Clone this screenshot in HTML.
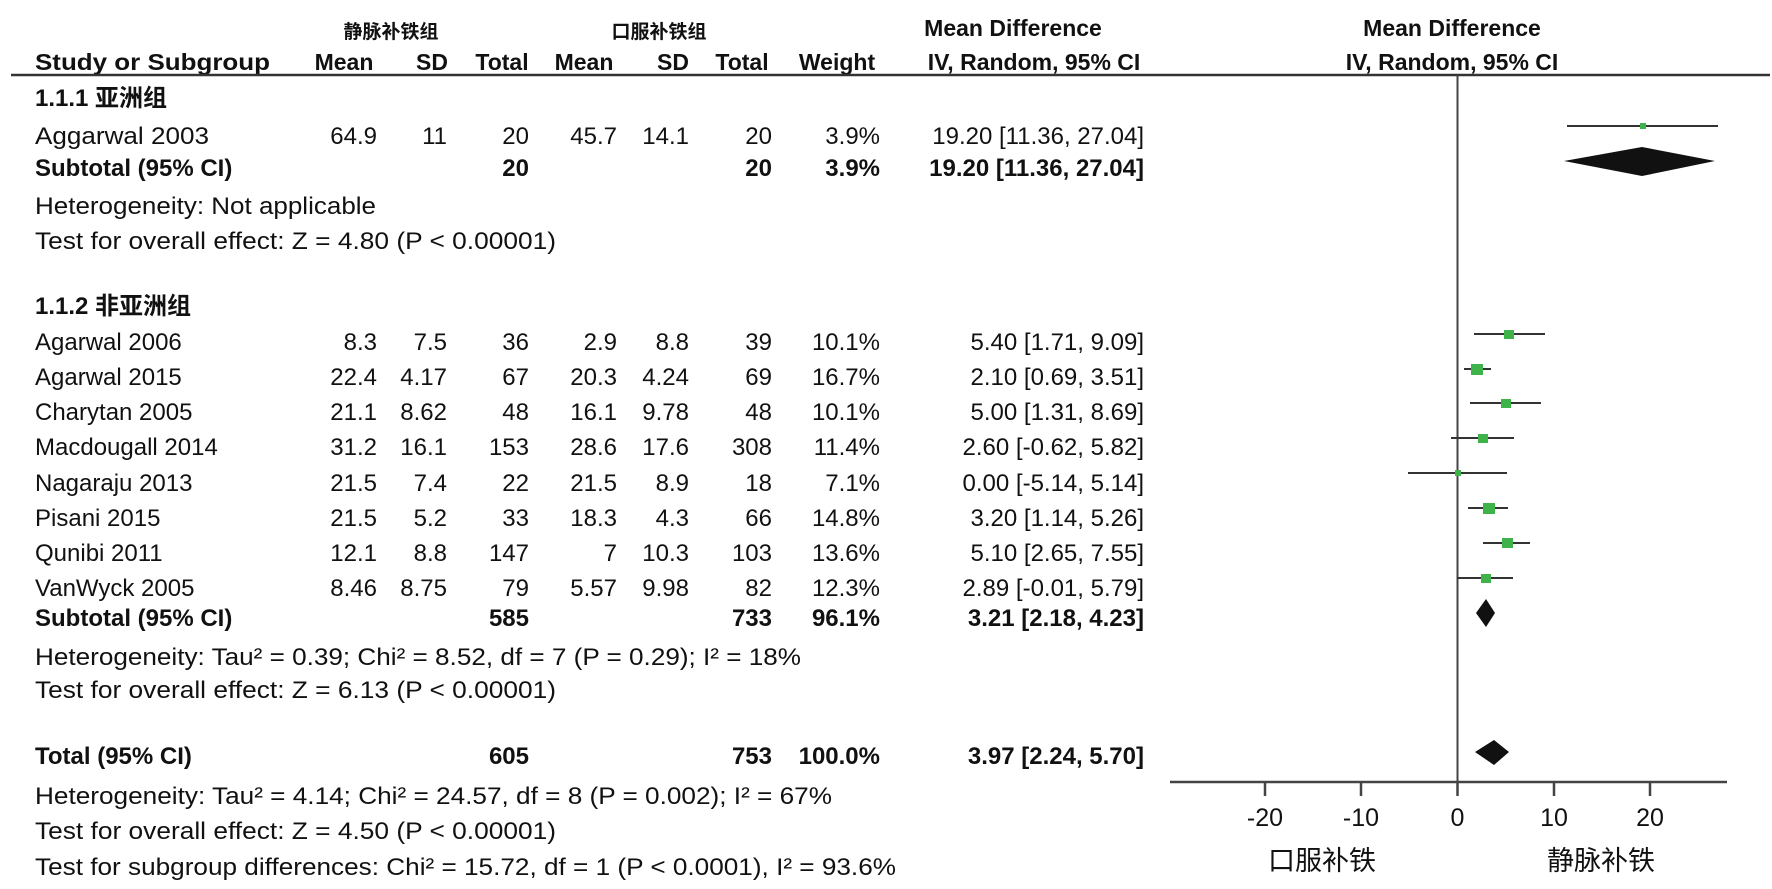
<!DOCTYPE html>
<html><head><meta charset="utf-8"><style>
html,body{margin:0;padding:0;background:#fff;}
svg{display:block;}
text{font-family:"Liberation Sans","Noto Sans CJK SC",sans-serif;font-size:24px;fill:#111;}
.b{font-weight:bold;}
.h{font-weight:bold;font-size:23px;}
.e{text-anchor:end;}
.m{text-anchor:middle;}
</style></head><body>
<svg width="1772" height="889" viewBox="0 0 1772 889">
<text class="h m" x="391" y="38" style="font-size:19px">静脉补铁组</text>
<text class="h m" x="659" y="38" style="font-size:19px">口服补铁组</text>
<text class="h m" x="1013" y="36">Mean Difference</text>
<text class="h m" x="1452" y="36">Mean Difference</text>
<text class="h" x="35" y="70" textLength="235" lengthAdjust="spacingAndGlyphs">Study or Subgroup</text>
<text class="h m" x="344" y="70">Mean</text>
<text class="h m" x="432" y="70">SD</text>
<text class="h m" x="502" y="70">Total</text>
<text class="h m" x="584" y="70">Mean</text>
<text class="h m" x="673" y="70">SD</text>
<text class="h m" x="742" y="70">Total</text>
<text class="h m" x="837" y="70">Weight</text>
<text class="h m" x="1034" y="70">IV, Random, 95% CI</text>
<text class="h m" x="1452" y="70">IV, Random, 95% CI</text>
<line x1="11" y1="75" x2="1770" y2="75" stroke="#333" stroke-width="2.5"/>

<text class="b" x="35" y="106">1.1.1  亚洲组</text>
<text x="35" y="144" textLength="174" lengthAdjust="spacingAndGlyphs">Aggarwal 2003</text>
<text class="e" x="377" y="144">64.9</text><text class="e" x="447" y="144">11</text><text class="e" x="529" y="144">20</text>
<text class="e" x="617" y="144">45.7</text><text class="e" x="689" y="144">14.1</text><text class="e" x="772" y="144">20</text>
<text class="e" x="880" y="144">3.9%</text><text class="e" x="1144" y="144">19.20 [11.36, 27.04]</text>
<text class="b" x="35" y="176">Subtotal (95% CI)</text>
<text class="b e" x="529" y="176">20</text><text class="b e" x="772" y="176">20</text>
<text class="b e" x="880" y="176">3.9%</text><text class="b e" x="1144" y="176">19.20 [11.36, 27.04]</text>
<text x="35" y="214" textLength="341" lengthAdjust="spacingAndGlyphs">Heterogeneity: Not applicable</text>
<text x="35" y="249" textLength="521" lengthAdjust="spacingAndGlyphs">Test for overall effect: Z = 4.80 (P &lt; 0.00001)</text>

<text class="b" x="35" y="314">1.1.2  非亚洲组</text>
<text x="35" y="350">Agarwal 2006</text><text class="e" x="377" y="350">8.3</text><text class="e" x="447" y="350">7.5</text><text class="e" x="529" y="350">36</text><text class="e" x="617" y="350">2.9</text><text class="e" x="689" y="350">8.8</text><text class="e" x="772" y="350">39</text><text class="e" x="880" y="350">10.1%</text><text class="e" x="1144" y="350">5.40 [1.71, 9.09]</text>
<text x="35" y="385">Agarwal 2015</text><text class="e" x="377" y="385">22.4</text><text class="e" x="447" y="385">4.17</text><text class="e" x="529" y="385">67</text><text class="e" x="617" y="385">20.3</text><text class="e" x="689" y="385">4.24</text><text class="e" x="772" y="385">69</text><text class="e" x="880" y="385">16.7%</text><text class="e" x="1144" y="385">2.10 [0.69, 3.51]</text>
<text x="35" y="420">Charytan 2005</text><text class="e" x="377" y="420">21.1</text><text class="e" x="447" y="420">8.62</text><text class="e" x="529" y="420">48</text><text class="e" x="617" y="420">16.1</text><text class="e" x="689" y="420">9.78</text><text class="e" x="772" y="420">48</text><text class="e" x="880" y="420">10.1%</text><text class="e" x="1144" y="420">5.00 [1.31, 8.69]</text>
<text x="35" y="455">Macdougall 2014</text><text class="e" x="377" y="455">31.2</text><text class="e" x="447" y="455">16.1</text><text class="e" x="529" y="455">153</text><text class="e" x="617" y="455">28.6</text><text class="e" x="689" y="455">17.6</text><text class="e" x="772" y="455">308</text><text class="e" x="880" y="455">11.4%</text><text class="e" x="1144" y="455">2.60 [-0.62, 5.82]</text>
<text x="35" y="491">Nagaraju 2013</text><text class="e" x="377" y="491">21.5</text><text class="e" x="447" y="491">7.4</text><text class="e" x="529" y="491">22</text><text class="e" x="617" y="491">21.5</text><text class="e" x="689" y="491">8.9</text><text class="e" x="772" y="491">18</text><text class="e" x="880" y="491">7.1%</text><text class="e" x="1144" y="491">0.00 [-5.14, 5.14]</text>
<text x="35" y="526">Pisani 2015</text><text class="e" x="377" y="526">21.5</text><text class="e" x="447" y="526">5.2</text><text class="e" x="529" y="526">33</text><text class="e" x="617" y="526">18.3</text><text class="e" x="689" y="526">4.3</text><text class="e" x="772" y="526">66</text><text class="e" x="880" y="526">14.8%</text><text class="e" x="1144" y="526">3.20 [1.14, 5.26]</text>
<text x="35" y="561">Qunibi 2011</text><text class="e" x="377" y="561">12.1</text><text class="e" x="447" y="561">8.8</text><text class="e" x="529" y="561">147</text><text class="e" x="617" y="561">7</text><text class="e" x="689" y="561">10.3</text><text class="e" x="772" y="561">103</text><text class="e" x="880" y="561">13.6%</text><text class="e" x="1144" y="561">5.10 [2.65, 7.55]</text>
<text x="35" y="596">VanWyck 2005</text><text class="e" x="377" y="596">8.46</text><text class="e" x="447" y="596">8.75</text><text class="e" x="529" y="596">79</text><text class="e" x="617" y="596">5.57</text><text class="e" x="689" y="596">9.98</text><text class="e" x="772" y="596">82</text><text class="e" x="880" y="596">12.3%</text><text class="e" x="1144" y="596">2.89 [-0.01, 5.79]</text>
<text class="b" x="35" y="626">Subtotal (95% CI)</text>
<text class="b e" x="529" y="626">585</text><text class="b e" x="772" y="626">733</text>
<text class="b e" x="880" y="626">96.1%</text><text class="b e" x="1144" y="626">3.21 [2.18, 4.23]</text>
<text x="35" y="665" textLength="766" lengthAdjust="spacingAndGlyphs">Heterogeneity: Tau² = 0.39; Chi² = 8.52, df = 7 (P = 0.29); I² = 18%</text>
<text x="35" y="698" textLength="521" lengthAdjust="spacingAndGlyphs">Test for overall effect: Z = 6.13 (P &lt; 0.00001)</text>

<text class="b" x="35" y="764">Total (95% CI)</text>
<text class="b e" x="529" y="764">605</text><text class="b e" x="772" y="764">753</text>
<text class="b e" x="880" y="764">100.0%</text><text class="b e" x="1144" y="764">3.97 [2.24, 5.70]</text>
<text x="35" y="804" textLength="797" lengthAdjust="spacingAndGlyphs">Heterogeneity: Tau² = 4.14; Chi² = 24.57, df = 8 (P = 0.002); I² = 67%</text>
<text x="35" y="839" textLength="521" lengthAdjust="spacingAndGlyphs">Test for overall effect: Z = 4.50 (P &lt; 0.00001)</text>
<text x="35" y="875" textLength="861" lengthAdjust="spacingAndGlyphs">Test for subgroup differences: Chi² = 15.72, df = 1 (P &lt; 0.0001), I² = 93.6%</text>

<line x1="1457.5" y1="75" x2="1457.5" y2="782" stroke="#444" stroke-width="2"/>
<line x1="1170" y1="782" x2="1727" y2="782" stroke="#444" stroke-width="2.5"/>
<g stroke="#444" stroke-width="2.5">
<line x1="1265" y1="782" x2="1265" y2="796"/><line x1="1361" y1="782" x2="1361" y2="796"/>
<line x1="1457.5" y1="782" x2="1457.5" y2="796"/><line x1="1554" y1="782" x2="1554" y2="796"/><line x1="1650" y1="782" x2="1650" y2="796"/>
</g>
<text class="m" x="1265" y="826" style="font-size:25px">-20</text><text class="m" x="1361" y="826" style="font-size:25px">-10</text>
<text class="m" x="1457.5" y="826" style="font-size:25px">0</text><text class="m" x="1554" y="826" style="font-size:25px">10</text><text class="m" x="1650" y="826" style="font-size:25px">20</text>
<text class="m" x="1322" y="870" style="font-size:27px">口服补铁</text>
<text class="m" x="1601" y="870" style="font-size:27px">静脉补铁</text>

<g stroke="#333" stroke-width="2">
<line x1="1567" y1="126" x2="1718" y2="126"/>
<line x1="1474" y1="334" x2="1545" y2="334"/>
<line x1="1464" y1="369" x2="1491" y2="369"/>
<line x1="1470" y1="403" x2="1541" y2="403"/>
<line x1="1451" y1="438" x2="1514" y2="438"/>
<line x1="1408" y1="473" x2="1507" y2="473"/>
<line x1="1468" y1="508" x2="1508" y2="508"/>
<line x1="1483" y1="543" x2="1530" y2="543"/>
<line x1="1457" y1="578" x2="1513" y2="578"/>
</g>
<g fill="#3db34a">
<rect x="1640" y="123" width="6" height="6"/>
<rect x="1504" y="330" width="10" height="9"/>
<rect x="1471" y="364" width="12" height="11"/>
<rect x="1501" y="399" width="10" height="9"/>
<rect x="1478" y="434" width="10" height="9"/>
<rect x="1455" y="470" width="6" height="6"/>
<rect x="1483" y="503" width="12" height="11"/>
<rect x="1502" y="538" width="11" height="10"/>
<rect x="1481" y="574" width="10" height="9"/>
</g>
<polygon points="1564,161 1642,147 1715,161 1642,176" fill="#111"/>
<polygon points="1476,613 1486,599 1495,613 1486,627" fill="#111"/>
<polygon points="1475,752 1494,740 1509,752 1494,765" fill="#111"/>
</svg>
</body></html>
